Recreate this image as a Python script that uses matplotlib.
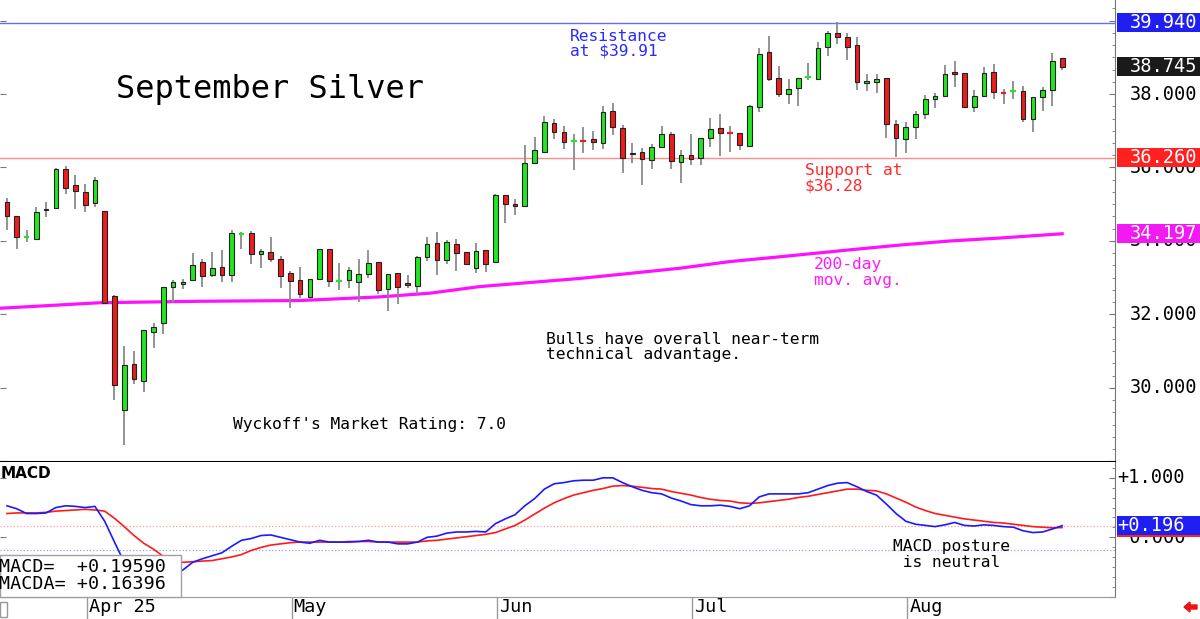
import matplotlib
matplotlib.use("Agg")
import matplotlib.pyplot as plt
import matplotlib.transforms as mtransforms
from matplotlib.patches import Rectangle, FancyArrow
from matplotlib.ticker import MultipleLocator, FixedLocator
import numpy as np

W, H = 1200, 619

# ── data: daily bars, Mar 20 .. Aug 25 (bar 1 = Mar 20) ─────────────────────
opens = [35.05, 34.68, 34.10, 34.05, 34.87, 34.91, 35.96, 35.52, 35.32, 35.03,
         34.81, 32.50, 29.39, 30.65, 30.19, 31.51, 31.76, 32.75, 32.82, 32.94,
         33.42, 33.07, 33.29, 33.07, 34.19, 34.23, 33.64, 33.69, 33.50, 33.12,
         32.94, 32.47, 32.97, 33.77, 32.90, 32.94, 32.89, 33.09, 33.42, 32.70,
         33.12, 32.85, 32.78, 33.57, 33.94, 33.48, 33.91, 33.69, 33.27, 33.76,
         33.42, 35.25, 35.01, 34.95, 36.11, 36.43, 37.22, 36.97, 36.71, 36.72,
         36.77, 36.68, 37.54, 37.07, 36.36, 36.43, 36.20, 36.55, 36.90, 36.16,
         36.33, 36.25, 36.79, 37.07, 36.95, 36.95, 36.59, 37.64, 39.13, 38.43,
         38.00, 38.15, 38.44, 38.41, 39.27, 39.67, 39.56, 39.32, 38.30, 38.34,
         38.43, 37.18, 36.78, 37.09, 37.45, 37.86, 37.95, 38.59, 38.56, 37.64,
         37.95, 38.60, 38.05, 38.06, 38.09, 37.33, 37.91, 38.11, 38.97]
highs = [35.16, 34.68, 34.30, 34.93, 35.07, 35.98, 36.05, 35.80, 35.54, 35.75,
         34.82, 32.52, 31.14, 31.01, 31.57, 31.77, 32.75, 32.94, 32.96, 33.66,
         33.50, 33.69, 33.75, 34.30, 34.25, 34.27, 33.77, 34.12, 33.60, 33.18,
         33.28, 32.96, 33.77, 33.77, 33.39, 33.30, 33.51, 33.75, 33.42, 33.09,
         33.12, 33.07, 33.59, 34.10, 34.24, 34.03, 34.05, 33.69, 33.94, 33.76,
         35.27, 35.25, 35.13, 36.61, 36.84, 37.40, 37.31, 37.14, 36.91, 37.09,
         36.98, 37.68, 37.75, 37.16, 36.68, 36.52, 36.64, 37.13, 36.97, 36.48,
         36.90, 36.81, 37.34, 37.46, 37.13, 36.95, 37.70, 39.26, 39.59, 38.76,
         38.41, 38.44, 38.85, 39.41, 39.72, 39.95, 39.67, 39.54, 38.54, 38.54,
         38.43, 37.29, 37.25, 37.54, 37.97, 38.04, 38.79, 38.90, 38.56, 38.11,
         38.74, 38.82, 38.13, 38.36, 38.23, 37.91, 38.20, 39.12, 38.97]
lows = [34.30, 33.77, 33.98, 34.05, 34.66, 34.89, 35.27, 34.86, 34.80, 34.93,
        32.32, 29.66, 28.44, 30.10, 29.90, 31.10, 31.46, 32.30, 32.70, 32.94,
        32.74, 33.01, 32.88, 32.88, 33.78, 33.37, 33.27, 33.43, 32.71, 32.17,
        32.46, 32.47, 32.97, 32.74, 32.68, 32.71, 32.35, 33.00, 32.56, 32.09,
        32.29, 32.72, 32.56, 33.46, 33.07, 33.37, 33.19, 33.38, 33.14, 33.16,
        33.39, 34.50, 34.70, 34.95, 36.11, 36.43, 36.77, 36.50, 35.93, 36.39,
        36.47, 36.51, 36.88, 35.84, 36.11, 35.52, 35.95, 36.52, 35.95, 35.57,
        36.07, 36.07, 36.57, 36.31, 36.43, 36.48, 36.59, 37.52, 38.36, 37.91,
        37.73, 37.68, 38.38, 38.38, 39.04, 39.35, 38.93, 38.11, 38.08, 38.04,
        36.81, 36.29, 36.40, 36.78, 37.32, 37.61, 37.95, 38.20, 37.64, 37.52,
        37.91, 37.86, 37.73, 37.86, 37.25, 36.97, 37.54, 37.68, 38.65]
closes = [34.69, 34.12, 34.11, 34.79, 34.83, 35.96, 35.43, 35.36, 34.99, 35.65,
          32.32, 30.07, 30.63, 30.24, 31.57, 31.65, 32.75, 32.88, 32.88, 33.34,
          33.05, 33.26, 33.07, 34.21, 34.20, 33.64, 33.72, 33.50, 33.06, 32.92,
          32.55, 32.96, 33.77, 32.92, 32.91, 33.20, 33.09, 33.39, 32.68, 33.09,
          32.74, 32.81, 33.56, 33.91, 33.48, 33.96, 33.68, 33.38, 33.74, 33.37,
          35.25, 35.01, 34.94, 36.11, 36.48, 37.25, 36.97, 36.70, 36.72, 36.71,
          36.69, 37.51, 37.09, 36.27, 36.40, 36.22, 36.55, 36.90, 36.18, 36.33,
          36.24, 36.81, 37.05, 36.95, 36.94, 36.61, 37.66, 39.09, 38.41, 38.00,
          38.14, 38.44, 38.45, 39.24, 39.67, 39.54, 39.29, 38.34, 38.35, 38.40,
          37.18, 36.81, 37.11, 37.45, 37.86, 37.95, 38.54, 38.54, 37.64, 37.95,
          38.56, 38.05, 38.04, 38.07, 37.33, 37.91, 38.11, 38.90, 38.745]

# 200-day moving average, read at points along the curve (bar index, price)
ma200_idx = [0.3, 10.5, 20.8, 31, 39.2, 44.3, 49.4, 54.5, 59.6, 64.8,
             69.9, 75, 80.1, 87.3, 92.4, 97.5, 102.6, 109]
ma200_val = [32.17, 32.32, 32.36, 32.38, 32.48, 32.58, 32.76, 32.87, 32.98, 33.12,
             33.26, 33.44, 33.57, 33.76, 33.89, 34.00, 34.08, 34.197]

macd = [0.53, 0.48, 0.40, 0.40, 0.41, 0.50, 0.53, 0.52, 0.50, 0.52,
        0.27, -0.08, -0.42, -0.58, -0.68, -0.72, -0.67, -0.60, -0.55, -0.42,
        -0.36, -0.31, -0.26, -0.15, -0.05, -0.02, 0.03, 0.04, 0.00, -0.04,
        -0.08, -0.10, -0.05, -0.08, -0.08, -0.08, -0.07, -0.05, -0.08, -0.08,
        -0.11, -0.11, -0.08, 0.00, 0.02, 0.07, 0.09, 0.09, 0.10, 0.09,
        0.23, 0.31, 0.38, 0.53, 0.65, 0.81, 0.90, 0.92, 0.95, 0.96,
        0.96, 1.00, 1.00, 0.92, 0.85, 0.79, 0.75, 0.73, 0.66, 0.61,
        0.55, 0.53, 0.53, 0.54, 0.52, 0.48, 0.53, 0.68, 0.73, 0.73,
        0.73, 0.73, 0.75, 0.81, 0.87, 0.91, 0.92, 0.85, 0.77, 0.71,
        0.56, 0.40, 0.27, 0.22, 0.20, 0.18, 0.21, 0.25, 0.20, 0.19,
        0.21, 0.20, 0.18, 0.17, 0.11, 0.08, 0.09, 0.14, 0.1959]
macd_avg = [0.40, 0.41, 0.41, 0.41, 0.42, 0.44, 0.45, 0.46, 0.47, 0.46,
            0.44, 0.32, 0.18, 0.03, -0.10, -0.20, -0.32, -0.39, -0.42, -0.41,
            -0.40, -0.39, -0.36, -0.33, -0.29, -0.22, -0.17, -0.13, -0.11, -0.09,
            -0.08, -0.08, -0.08, -0.08, -0.08, -0.07, -0.07, -0.07, -0.08, -0.08,
            -0.08, -0.08, -0.08, -0.06, -0.05, -0.03, -0.01, 0.01, 0.03, 0.05,
            0.08, 0.14, 0.20, 0.29, 0.39, 0.49, 0.58, 0.65, 0.71, 0.75,
            0.79, 0.82, 0.86, 0.87, 0.86, 0.84, 0.82, 0.81, 0.77, 0.74,
            0.71, 0.67, 0.64, 0.62, 0.61, 0.58, 0.57, 0.58, 0.60, 0.62,
            0.64, 0.67, 0.69, 0.72, 0.75, 0.78, 0.81, 0.81, 0.79, 0.78,
            0.73, 0.66, 0.59, 0.51, 0.45, 0.40, 0.37, 0.34, 0.31, 0.29,
            0.27, 0.25, 0.24, 0.22, 0.20, 0.18, 0.17, 0.16, 0.16396]

month_idx = [9, 30, 51, 71, 93]
month_labels = ["Apr 25", "May", "Jun", "Jul", "Aug"]

resistance = 39.94
support = 36.26
price_ticks = [30, 32, 34, 36, 38]
macd_ref_lines = [0.196, -0.21]

GREEN, RED = "#22e622", "#ee1c1c"
MONO = "DejaVu Sans Mono"
plt.rcParams["font.family"] = MONO


def px(x, y):
    """pixel position (from top-left) -> figure fraction"""
    return x / W, 1 - y / H


def right_label(fig, ax, value, text, x_right, box=None, txt_color="black"):
    blend = mtransforms.blended_transform_factory(fig.transFigure, ax.transData)
    if box is not None:
        # box 19px tall around the value
        y0 = ax.transData.transform((0, value))[1]
        inv = ax.transData.inverted()
        lo = inv.transform((0, y0 - 9.5))[1]
        hi = inv.transform((0, y0 + 9.5))[1]
        fig.add_artist(Rectangle((1117 / W, lo), 83 / W, hi - lo, transform=blend,
                                 facecolor=box, edgecolor="none", zorder=4))
    t = mtransforms.offset_copy(blend, fig=fig, y=-5.5, units="dots")
    fig.text(x_right / W, value, text, transform=t, ha="right", va="baseline",
             fontsize=13.4, color=txt_color, zorder=5 if box else 3)


def main():
    o, h, l, c = map(np.array, (opens, highs, lows, closes))
    x = np.arange(1, len(c) + 1)
    xlim = (1 - 7 / 9.77, 1 + 1108 / 9.77)

    fig = plt.figure(figsize=(W / 100, H / 100), dpi=100)
    ax = fig.add_axes([0, 157 / H, 1115 / W, 462 / H])
    axm = fig.add_axes([0, 22 / H, 1115 / W, 135 / H])
    axd = fig.add_axes([0, 0, 1115 / W, 22 / H])

    # ── price panel ──
    ax.axhline(resistance, color="#6a6aff", lw=1, zorder=1)
    ax.axhline(support, color="#ff8c8c", lw=1, zorder=1)
    ax.plot(ma200_idx, ma200_val, color="#ff10ff", lw=2.3, zorder=2)

    up = c >= o
    doji = np.abs(c - o) < 0.025
    cols = np.where(up, GREEN, RED)
    ax.vlines(x, l, h, color="#8a8a8a", lw=1.3, zorder=3)
    body = ~doji
    ax.bar(x[body], np.abs(c - o)[body], bottom=np.minimum(o, c)[body], width=0.48,
           color=cols[body], edgecolor="#222222", linewidth=0.8, zorder=4)
    ax.hlines(c[doji], x[doji] - 0.3, x[doji] + 0.3, colors=cols[doji], lw=1.6, zorder=4)

    ax.set_xlim(*xlim)
    ax.set_ylim(27.986, 40.558)
    ax.set_xticks([])
    ax.yaxis.set_major_locator(FixedLocator(list(range(28, 42, 2))))
    ax.yaxis.set_minor_locator(MultipleLocator(1 / 3))
    ax.tick_params(axis="y", which="both", direction="in", left=True, right=True,
                   labelleft=False, labelright=False, color="#777777")
    ax.tick_params(axis="y", which="major", length=4)
    ax.tick_params(axis="y", which="minor", length=2.5, left=False)
    for s in ("top", "left"):
        ax.spines[s].set_visible(False)
    ax.spines["right"].set_color("#777777")
    ax.spines["bottom"].set_color("black")
    ax.spines["bottom"].set_linewidth(1.5)

    # ── MACD panel ──
    for v, col in zip(macd_ref_lines, ("#ff9a9a", "#9a9aff")):
        axm.axhline(v, color=col, lw=0.9, ls=":", zorder=1)
    axm.plot(x, macd_avg, color="#ff1a1a", lw=1.2, zorder=2)
    axm.plot(x, macd, color="#1a1aff", lw=1.2, zorder=3)
    axm.set_xlim(*xlim)
    axm.set_ylim(-1.003, 1.266)
    axm.set_xticks([])
    axm.yaxis.set_major_locator(FixedLocator([-1, 0, 1]))
    axm.yaxis.set_minor_locator(MultipleLocator(1 / 6))
    axm.tick_params(axis="y", which="both", direction="in", left=True, right=True,
                    labelleft=False, labelright=False, color="#777777")
    axm.tick_params(axis="y", which="major", length=4)
    axm.tick_params(axis="y", which="minor", length=2.5, left=False)
    for s in ("top", "left"):
        axm.spines[s].set_visible(False)
    axm.spines["right"].set_color("#777777")
    axm.spines["bottom"].set_color("#999999")

    # ── date strip ──
    axd.set_xlim(*xlim)
    axd.set_ylim(0, 1)
    axd.axis("off")
    axd.vlines(np.array(month_idx) + 0.15, 0, 1, color="#9a9a9a", lw=1)
    for mi, lab in zip(month_idx, month_labels):
        axd.text(mi + 0.35, 0.3, lab, fontsize=13.3, ha="left", va="baseline")

    # ── right-hand labels ──
    for v in price_ticks:
        right_label(fig, ax, v, f"{v:.3f}", 1197)
    right_label(fig, ax, resistance, f"{resistance:.3f}", 1197, box="#1f1ff2", txt_color="white")
    right_label(fig, ax, c[-1], f"{c[-1]:.3f}", 1197, box="#1a1a1a", txt_color="white")
    right_label(fig, ax, support, f"{support:.3f}", 1197, box="#ff2020", txt_color="white")
    right_label(fig, ax, ma200_val[-1], f"{ma200_val[-1]:.3f}", 1197, box="#f21af2", txt_color="white")
    right_label(fig, axm, 1.0, "+1.000", 1185)
    right_label(fig, axm, 0.0, " 0.000", 1185)
    right_label(fig, axm, macd_avg[-1], "", 1185, box="#ff2020")
    right_label(fig, axm, macd[-1], f"{macd[-1]:+.3f}", 1185, box="#1f1ff2", txt_color="white")

    # ── annotations ──
    fig.text(*px(116, 98), "September Silver", fontsize=23, va="baseline")
    ann = dict(fontsize=11.7, va="top", linespacing=1.0)
    fig.text(*px(570, 29), "Resistance\nat $39.91", color="#2b2bff", **ann)
    fig.text(*px(805, 163.5), "Support at\n$36.28", color="#ff2a2a", **ann)
    fig.text(*px(814, 257.5), "200-day\nmov. avg.", color="#ff1aff", **ann)
    fig.text(*px(546, 331.5), "Bulls have overall near-term\ntechnical advantage.", **ann)
    fig.text(*px(233, 417.5), "Wyckoff's Market Rating: 7.0", **ann)
    fig.text(*px(893, 539.5), "MACD posture\n is neutral", **dict(ann, linespacing=1.05))
    fig.text(*px(1, 473), "MACD", family="DejaVu Sans", weight="bold", fontsize=11, va="center")

    # MACD value box, bottom left
    fig.add_artist(Rectangle(px(0, 597), 181 / W, 42 / H, facecolor="white",
                             edgecolor="#a0a0a0", lw=1, zorder=4))
    fig.text(*px(-1, 572), f"MACD=  {macd[-1]:+.5f}", fontsize=13.2, va="baseline", zorder=5)
    fig.text(*px(-1, 589), f"MACDA= {macd_avg[-1]:+.5f}", fontsize=13.2, va="baseline", zorder=5)

    # little widgets in the bottom corners
    fig.add_artist(Rectangle(px(0, 617), 7 / W, 15 / H, facecolor="white",
                             edgecolor="#999999", lw=1))
    fig.add_artist(FancyArrow(1197, 12, -13, 0, width=4, head_width=10, head_length=6,
                              length_includes_head=True, color="#ee1111",
                              transform=mtransforms.IdentityTransform()))

    fig.savefig("out.png", dpi=100, facecolor="white")
    plt.close(fig)


if __name__ == "__main__":
    main()
